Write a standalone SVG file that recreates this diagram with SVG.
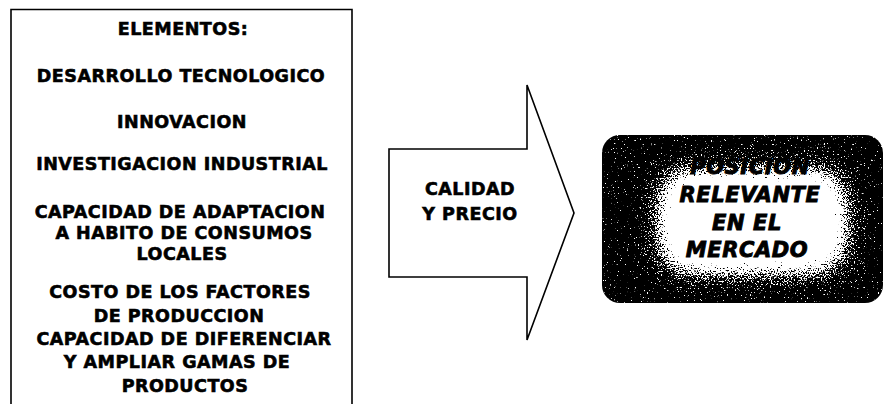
<svg xmlns="http://www.w3.org/2000/svg" width="884" height="404" viewBox="0 0 884 404">
<style>
.frame{fill:none;stroke:#000;stroke-width:1.6}
.t{font-family:"DejaVu Sans","Verdana",sans-serif;font-weight:bold;font-size:17.5px;fill:#000;stroke:#000;stroke-width:0.6;text-anchor:middle;letter-spacing:0.5px}
.r{font-family:"DejaVu Sans","Verdana",sans-serif;font-weight:bold;font-style:italic;font-size:21px;fill:#000;stroke:#000;stroke-width:0.9;text-anchor:middle;letter-spacing:0.6px}
</style>
<defs>
<clipPath id="rc"><rect x="602" y="135" width="281" height="168" rx="18" ry="18"/></clipPath>
<filter id="speck" filterUnits="userSpaceOnUse" x="600" y="133" width="284" height="172" color-interpolation-filters="sRGB">
<feFlood flood-color="#000" result="k"/>
<feFlood x="670" y="180" width="165" height="82" flood-color="#fff" result="w"/>
<feGaussianBlur in="w" x="600" y="133" width="284" height="172" stdDeviation="17" result="wb"/>
<feComposite in="wb" in2="k" operator="over" result="g"/>
<feTurbulence type="fractalNoise" baseFrequency="0.7" numOctaves="2" seed="7" result="nz"/>
<feColorMatrix in="nz" type="matrix" values="1 0 0 0 0 1 0 0 0 0 1 0 0 0 0 0 0 0 0 1" result="n"/>
<feComposite in="g" in2="n" operator="arithmetic" k1="0" k2="1.1" k3="1" k4="0" result="s"/>
<feComponentTransfer in="s">
<feFuncR type="linear" slope="14" intercept="-9.7"/>
<feFuncG type="linear" slope="14" intercept="-9.7"/>
<feFuncB type="linear" slope="14" intercept="-9.7"/>
<feFuncA type="linear" slope="0" intercept="1"/>
</feComponentTransfer>
</filter>
</defs>
<rect width="884" height="404" fill="#fff"/>

<g id="elementos">
<path class="frame" d="M11,404 V9.5 H352 V404"/>
<text class="t" x="183" y="35">ELEMENTOS:</text>
<text class="t" x="181" y="82">DESARROLLO TECNOLOGICO</text>
<text class="t" x="182" y="128">INNOVACION</text>
<text class="t" x="182" y="170">INVESTIGACION INDUSTRIAL</text>
<text class="t" x="180" y="218">CAPACIDAD DE ADAPTACION</text>
<text class="t" x="184" y="239">A HABITO DE CONSUMOS</text>
<text class="t" x="182" y="260">LOCALES</text>
<text class="t" x="180" y="298">COSTO DE LOS FACTORES</text>
<text class="t" x="179" y="322">DE PRODUCCION</text>
<text class="t" x="184" y="345">CAPACIDAD DE DIFERENCIAR</text>
<text class="t" x="177" y="368">Y AMPLIAR GAMAS DE</text>
<text class="t" x="185" y="392">PRODUCTOS</text>
</g>

<g id="connectors">
<g id="arrow">
<path class="frame" d="M389,149 H527 V85 L574,213 L527,340 V277 H389 Z" fill="#fff"/>
<text class="t" x="470" y="195">CALIDAD</text>
<text class="t" x="470" y="220">Y PRECIO</text>
</g>
</g>

<g id="posicion">
<g clip-path="url(#rc)">
<rect x="602" y="135" width="281" height="168" fill="#000" filter="url(#speck)"/>
</g>
<text class="r" x="750" y="174">POSICION</text>
<text class="r" x="750" y="202">RELEVANTE</text>
<text class="r" x="747" y="230">EN EL</text>
<text class="r" x="747" y="257">MERCADO</text>
</g>
</svg>
